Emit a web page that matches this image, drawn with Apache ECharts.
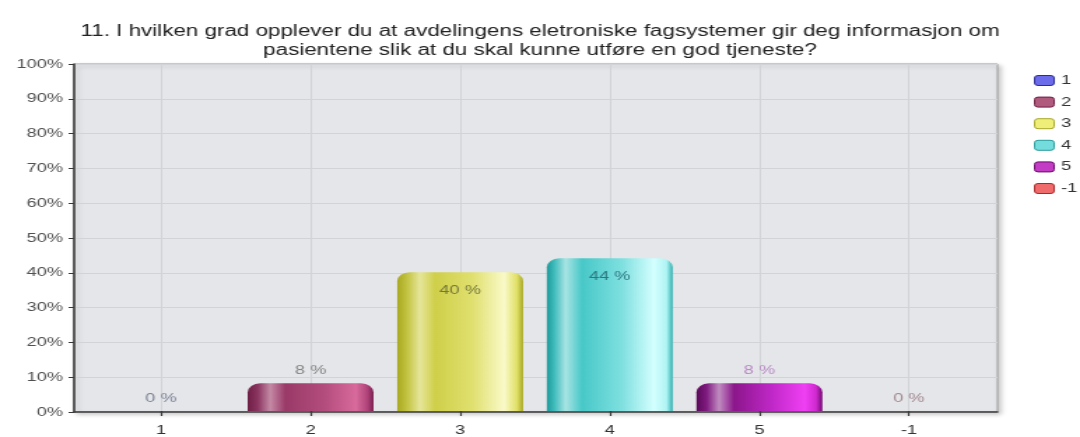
<!DOCTYPE html>
<html>
<head>
<meta charset="utf-8">
<script src="https://cdn.jsdelivr.net/npm/echarts@6/dist/echarts.min.js"></script>
<style>
  html, body { margin: 0; padding: 0; background: #ffffff; overflow: hidden; }
  /* the chart is laid out narrow and widened to the window */
  #chart { width: 772px; height: 437px; transform: scaleX(1.399); transform-origin: 0 0; }
</style>
</head>
<body>
<div id="chart"></div>
<script>
// Answer options and share of respondents (%)
const categories = ['1', '2', '3', '4', '5', '-1'];
const values = [0, 8, 40, 44, 8, 0];
const yTicks = [0, 100, 10]; // min, max, step of the percent axis

const titleText = '11. I hvilken grad opplever du at avdelingens eletroniske fagsystemer gir deg informasjon om\npasientene slik at du skal kunne utføre en god tjeneste?';

// Cylinder-like shading per answer option
const barStops = [
  [['#2a2a8a',0],['#4444b8',0.08],['#a0a0ee',0.18],['#5050d0',0.3],['#6a6ae6',0.6],['#b8b8ff',0.85],['#6a6ae0',0.95],['#30309a',1]],
  [['#6e1f45',0],['#8a3560',0.08],['#c48aa5',0.18],['#9a3a68',0.3],['#b24c7c',0.6],['#d86a9c',0.86],['#b0447a',0.95],['#7a2050',1]],
  [['#a8a820',0],['#c4c444',0.08],['#e6e69a',0.18],['#cfcf4a',0.3],['#e0e070',0.6],['#fafac8',0.85],['#e0e068',0.95],['#a8a822',1]],
  [['#1f9a9a',0],['#40bcbc',0.06],['#a8e4e4',0.15],['#48c8c8',0.28],['#80e0e0',0.6],['#d4ffff',0.85],['#b0f4f4',0.95],['#30b0b0',1]],
  [['#5a0a5a',0],['#801a80',0.08],['#c08cc0',0.18],['#8c168c',0.3],['#c028c8',0.6],['#f040f4',0.86],['#d02ad0',0.95],['#700a70',1]],
  [['#902020',0],['#c04040',0.08],['#f0a0a0',0.18],['#d04a4a',0.3],['#e86a6a',0.6],['#ffb8b8',0.85],['#e06060',0.95],['#a02a2a',1]]
];
const legendFill = ['#6c6cea', '#b05a7e', '#eeee78', '#74dcdc', '#c23cc4', '#f06c6c'];
const legendBorder = ['#2c2c96', '#6e1f45', '#a8a82a', '#2a9c9c', '#6a0a6a', '#a82a2a'];
const labelColors = ['#7e8298', '#858585', '#76783a', '#2c7880', '#b88ac4', '#a28a92'];

function gradient(stops) {
  return new echarts.graphic.LinearGradient(0, 0, 1, 0,
    stops.map(s => ({ color: s[0], offset: s[1] })));
}

const series = categories.map((name, i) => ({
  name: name,
  type: 'bar',
  xAxisIndex: 1,
  yAxisIndex: 1,
  barWidth: 90,
  barGap: '-100%',
  data: categories.map((c, j) => (j === i ? values[j] : '-')),
  itemStyle: {
    color: gradient(barStops[i]),
    borderRadius: [9, 9, 0, 0],
    borderWidth: 0
  },
  label: {
    show: true,
    position: values[i] >= 20 ? 'insideTop' : 'top',
    distance: values[i] >= 20 ? 12 : 6,
    formatter: p => p.value + ' %',
    color: labelColors[i],
    fontFamily: 'Liberation Sans, Arial, sans-serif',
    fontSize: 13
  }
}));

const chart = echarts.init(document.getElementById('chart'), null, { renderer: 'canvas' });

chart.setOption({
  animation: false,
  backgroundColor: '#ffffff',
  title: {
    text: titleText,
    left: 'center',
    top: 17,
    textStyle: {
      fontFamily: 'Liberation Sans, Arial, sans-serif',
      fontSize: 16,
      fontWeight: 'normal',
      color: '#222222',
      lineHeight: 19
    }
  },
  legend: {
    orient: 'vertical',
    left: 734,
    top: 69,
    itemWidth: 14,
    itemHeight: 10,
    itemGap: 8.6,
    icon: 'roundRect',
    textStyle: {
      fontFamily: 'Liberation Sans, Arial, sans-serif',
      fontSize: 13,
      color: '#333333',
      lineHeight: 11
    },
    data: categories.map((c, i) => ({
      name: c,
      itemStyle: { color: legendFill[i], borderColor: legendBorder[i], borderWidth: 1 }
    }))
  },
  grid: [
    {
      left: 53, top: 64, width: 660, height: 348,
      show: true,
      backgroundColor: '#e5e6e9',
      borderColor: '#9c9c9c',
      borderWidth: 1,
      shadowColor: 'rgba(0,0,0,0.22)',
      shadowBlur: 4,
      shadowOffsetX: 2,
      shadowOffsetY: 2
    },
    { left: 61.6, top: 64, width: 641.6, height: 348 }
  ],
  xAxis: [
    {
      gridIndex: 0,
      type: 'value',
      min: 0,
      max: 1,
      axisLine: { show: true, lineStyle: { color: '#3a3a3a', width: 1.5 } },
      axisTick: { show: false },
      axisLabel: { show: false },
      splitLine: { show: false }
    },
    {
      gridIndex: 1,
      type: 'category',
      data: categories,
      axisLine: { show: false },
      axisTick: { show: true, alignWithLabel: true, length: 5, lineStyle: { color: '#3a3a3a', width: 1.2 } },
      axisLabel: {
        margin: 13,
        color: '#333333',
        fontFamily: 'Liberation Sans, Arial, sans-serif',
        fontSize: 13
      },
      splitLine: { show: true, alignWithLabel: true, lineStyle: { color: '#d2d3d7', width: 1 } }
    }
  ],
  yAxis: [
    {
      gridIndex: 0,
      type: 'value',
      min: yTicks[0],
      max: yTicks[1],
      interval: yTicks[2],
      axisLine: { show: true, lineStyle: { color: '#3a3a3a', width: 1.5 } },
      axisTick: { show: true, length: 4, lineStyle: { color: '#3a3a3a' } },
      axisLabel: {
        formatter: '{value}%',
        margin: 8,
        color: '#505050',
        fontFamily: 'Liberation Sans, Arial, sans-serif',
        fontSize: 13
      },
      splitLine: { show: true, lineStyle: { color: '#d2d3d7', width: 1 } }
    },
    {
      gridIndex: 1,
      type: 'value',
      min: yTicks[0],
      max: yTicks[1],
      show: false
    }
  ],
  series: series
});
</script>
</body>
</html>
